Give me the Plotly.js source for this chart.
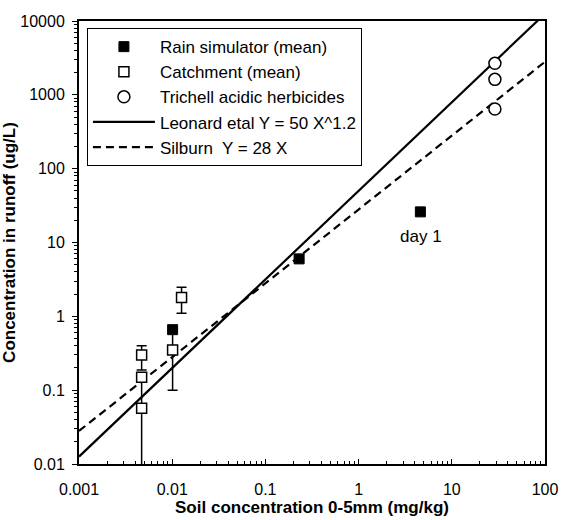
<!DOCTYPE html>
<html>
<head>
<meta charset="utf-8">
<script src="https://cdn.plot.ly/plotly-3.0.1.min.js"></script>
<style>html,body{margin:0;padding:0;background:#fff}</style>
</head>
<body>
<div id="chart" style="width:562px;height:520px"></div>
<script>
// Rain simulator (mean)
const rainX = [0.0101, 0.23, 4.6];
const rainY = [0.66, 6.0, 26];
const rainErrPlus = [0, 0, 0];
const rainErrMinus = [0.56, 0, 0];

// Catchment (mean)
const catchX = [0.0047, 0.0047, 0.0047, 0.0101, 0.0126];
const catchY = [0.057, 0.15, 0.30, 0.35, 1.8];
const catchErrPlus = [0.093, 0, 0.10, 0, 0.67];
const catchErrMinus = [0.0565, 0, 0.113, 0, 0.70];

// Trichell acidic herbicides
const trichX = [29, 29, 29];
const trichY = [2670, 1620, 642];

// Model lines (end points)
const leonardX = [0.001, 100];
const leonardY = [0.0126, 12560];
const silburnX = [0.001, 100];
const silburnY = [0.028, 2800];

const xTickVals = [0.001, 0.01, 0.1, 1, 10, 100];
const xTickText = ["0.001", "0.01", "0.1", "1", "10", "100"];
const yTickVals = [0.01, 0.1, 1, 10, 100, 1000, 10000];
const yTickText = ["0.01", "0.1", "1", "10", "100", "1000", "10000"];

const FONT = '"Liberation Sans", Arial, sans-serif';

const traces = [
  {
    x: leonardX, y: leonardY, mode: 'lines', name: 'Leonard etal Y = 50 X^1.2',
    line: {color: '#000', width: 2.2}, legendrank: 4
  },
  {
    x: silburnX, y: silburnY, mode: 'lines', name: 'Silburn  Y = 28 X',
    line: {color: '#000', width: 2.2, dash: '8px,5px'}, legendrank: 5
  },
  {
    x: rainX, y: rainY, mode: 'markers', name: 'Rain simulator (mean)',
    marker: {symbol: 'square', size: 10, color: '#000', line: {color: '#000', width: 1}},
    error_y: {type: 'data', symmetric: false, array: rainErrPlus, arrayminus: rainErrMinus,
              color: '#000', thickness: 1.5, width: 5},
    legendrank: 1
  },
  {
    x: catchX, y: catchY, mode: 'markers', name: 'Catchment (mean)',
    marker: {symbol: 'square', size: 10, color: '#fff', line: {color: '#000', width: 1.5}},
    error_y: {type: 'data', symmetric: false, array: catchErrPlus, arrayminus: catchErrMinus,
              color: '#000', thickness: 1.5, width: 5},
    legendrank: 2
  },
  {
    x: trichX, y: trichY, mode: 'markers', name: 'Trichell acidic herbicides',
    marker: {symbol: 'circle', size: 12, color: '#fff', line: {color: '#000', width: 1.5}},
    legendrank: 3
  }
];

const layout = {
  width: 562, height: 520,
  margin: {l: 79, r: 17, t: 21, b: 56},
  paper_bgcolor: '#fff', plot_bgcolor: '#fff',
  font: {family: FONT, size: 16, color: '#000'},
  showlegend: true,
  legend: {
    x: 0.017, y: 0.984, xanchor: 'left', yanchor: 'top',
    bordercolor: '#000', borderwidth: 1, bgcolor: '#fff',
    font: {family: FONT, size: 17, color: '#000'},
    itemwidth: 62, tracegroupgap: 0
  },
  xaxis: {
    type: 'log', range: [-3, 2],
    tickvals: xTickVals, ticktext: xTickText,
    ticks: 'inside', ticklen: 5, tickwidth: 1, tickcolor: '#000',
    minor: {ticks: 'inside', ticklen: 3, tickcolor: '#000', showgrid: false, dtick: 'D1', tick0: 0},
    showgrid: false, zeroline: false,
    showline: true, linecolor: '#000', linewidth: 2, mirror: true,
    ticklabelstandoff: 10,
    tickfont: {family: FONT, size: 16, color: '#000'},
    title: {text: '<b>Soil concentration 0-5mm (mg/kg)</b>', font: {family: FONT, size: 17, color: '#000'}, standoff: 2}
  },
  yaxis: {
    type: 'log', range: [-2, 4],
    tickvals: yTickVals, ticktext: yTickText,
    ticks: 'outside', ticklen: 5, tickwidth: 1, tickcolor: '#000',
    minor: {ticks: 'outside', ticklen: 3, tickcolor: '#000', showgrid: false, dtick: 'D1', tick0: 0},
    showgrid: false, zeroline: false,
    showline: true, linecolor: '#000', linewidth: 2, mirror: true,
    ticklabelstandoff: 4,
    tickfont: {family: FONT, size: 16, color: '#000'},
    title: {text: '<b>Concentration in runoff (ug/L)</b>', font: {family: FONT, size: 17, color: '#000'}, standoff: 8}
  },
  annotations: [
    {x: Math.log10(4.6), y: Math.log10(26), xref: 'x', yref: 'y', text: 'day 1',
     showarrow: false, yshift: -25, xshift: 1, font: {family: FONT, size: 17, color: '#000'}}
  ]
};

Plotly.newPlot('chart', traces, layout, {displayModeBar: false, staticPlot: true});
</script>
</body>
</html>
